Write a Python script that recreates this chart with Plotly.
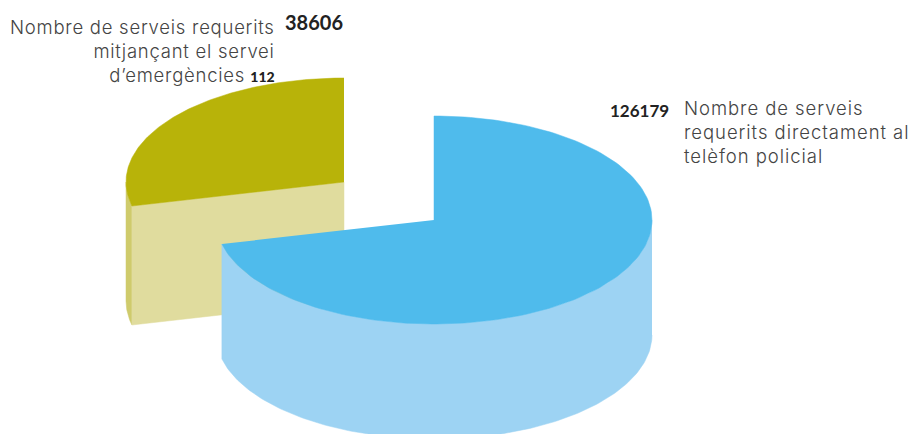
import numpy as np
import plotly.graph_objects as go

label_olive = ["Nombre de serveis requerits", "mitjançant el servei", "d’emergències"]
label_olive_suffix = "112"
label_blue = ["Nombre de serveis", "requerits directament al", "telèfon policial"]
values = [126179, 38606]
display_values = ["126179", "38606"]

W, H = 912, 434
RX, RY, DEPTH, OLIVE_DEPTH = 218, 104, 115, 119
SKEW = 19  # degrees the projection pulls the shared boundary back
BLUE_C = (434, 220)
OLIVE_C = (344, 182)
BLUE_TOP, BLUE_SIDE = "#4FBBEC", "#9DD3F3"
OLIVE_TOP, OLIVE_CUT, OLIVE_WALL = "#B8B309", "#E0DC9E", "#CFCB6C"
TEXT = "#444444"
NUM = "#222222"
LABEL_FONT = "Inter"
NUM_FONT = "Lato"

boundary = 360 * values[0] / sum(values) - SKEW


def arc(c, a0, a1, dy=0, n=160):
    t = np.radians(np.linspace(a0, a1, n))
    return c[0] + RX * np.sin(t), c[1] - RY * np.cos(t) + dy


def poly(x, y, color):
    return go.Scatter(x=list(x), y=list(y), mode="lines", fill="toself", fillcolor=color,
                      line=dict(color=color, width=0.5), hoverinfo="skip", showlegend=False)


fig = go.Figure()

# olive slice: outer wall, cut face, top
ax, ay = arc(OLIVE_C, boundary, 270)
bx, by = arc(OLIVE_C, boundary, 270, OLIVE_DEPTH)
fig.add_trace(poly(np.r_[ax, bx[::-1]], np.r_[ay, by[::-1]], OLIVE_WALL))
ex, ey = arc(OLIVE_C, boundary, boundary, 0, 2)
fig.add_trace(poly([ex[0], OLIVE_C[0], OLIVE_C[0], ex[0]],
                   [ey[0], OLIVE_C[1], OLIVE_C[1] + OLIVE_DEPTH, ey[0] + OLIVE_DEPTH], OLIVE_CUT))
tx, ty = arc(OLIVE_C, boundary, 360)
fig.add_trace(poly(np.r_[OLIVE_C[0], tx], np.r_[OLIVE_C[1], ty], OLIVE_TOP))

# blue slice: outer wall, top
ax, ay = arc(BLUE_C, 90, boundary)
bx, by = arc(BLUE_C, 90, boundary, DEPTH)
fig.add_trace(poly(np.r_[ax, bx[::-1]], np.r_[ay, by[::-1]], BLUE_SIDE))
tx, ty = arc(BLUE_C, 0, boundary)
fig.add_trace(poly(np.r_[BLUE_C[0], tx], np.r_[BLUE_C[1], ty], BLUE_TOP))


def note(x, y, text, anchor, font, size, color, weight=None):
    fig.add_annotation(x=x, y=y, text=text, xanchor=anchor, yanchor="middle", showarrow=False,
                       align="right" if anchor == "right" else "left", borderpad=0,
                       font=dict(family=font, size=size, color=color, weight=weight))


def spaced(line, sp):
    return f'<span style="letter-spacing:{sp}px">{line}</span>'


LS = 18.5
suffix = (f'<span style="font-family:{NUM_FONT};font-size:14px;font-weight:900;color:{NUM}">'
          f'{label_olive_suffix}</span>')
note(276, 51, "<br>".join([spaced(label_olive[0], 0.75), spaced(label_olive[1], 0.75),
                           spaced(label_olive[2], 0.75) + " " + suffix]),
     "right", LABEL_FONT, LS, TEXT, 300)
note(284, 22, f"<b>{display_values[1]}</b>", "left", NUM_FONT, 20, NUM)
note(609, 110, f"<b>{display_values[0]}</b>", "left", NUM_FONT, 17, NUM)
note(683, 132, "<br>".join(spaced(s, 0.95) for s in label_blue), "left", LABEL_FONT, LS, TEXT, 300)

fig.update_layout(width=W, height=H, margin=dict(l=0, r=0, t=0, b=0),
                  paper_bgcolor="white", plot_bgcolor="white", showlegend=False,
                  xaxis=dict(range=[0, W], visible=False, fixedrange=True),
                  yaxis=dict(range=[H, 0], visible=False, fixedrange=True))
fig.write_html("out.html", config={"displayModeBar": False},
               post_script="document.body.style.margin='0';document.body.style.overflow='hidden';")
